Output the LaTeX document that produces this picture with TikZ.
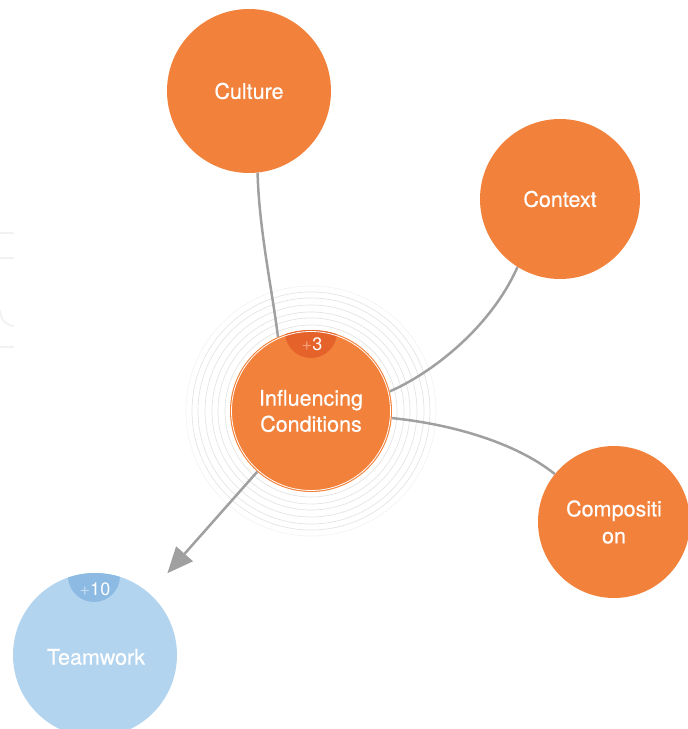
\documentclass[tikz,border=0pt]{standalone}
\usepackage{fontspec}
\setmainfont{TeX Gyre Heros}
\newfontfamily\medfont[FakeBold=0.5]{TeX Gyre Heros}
\usetikzlibrary{arrows.meta}
\definecolor{org}{HTML}{F2813B}
\definecolor{orgdark}{HTML}{E5622A}
\definecolor{orgplus}{HTML}{F5A27C}
\definecolor{blu}{HTML}{B3D4EF}
\definecolor{bludark}{HTML}{8DBAE3}
\definecolor{bluplus}{HTML}{C2DBF1}
\definecolor{edgegray}{HTML}{A0A0A0}
\definecolor{ringgray}{HTML}{E4E4E4}
\definecolor{ghost}{HTML}{F2F2F2}
\tikzset{
  bub/.style={circle, fill=org, text=white, inner sep=0pt, align=center,
    font=\medfont\fontsize{21.5}{27}\selectfont},
  edge/.style={draw=edgegray, line width=2.5pt},
  ring/.style={draw=ringgray, line width=0.7pt},
  badgetext/.style={text=white, inner sep=0pt, font=\fontsize{18}{20}\selectfont}
}
\begin{document}
\begin{tikzpicture}[x=1pt,y=1pt]
\useasboundingbox (0,0) rectangle (688,729);
% faint ghost marks at the left edge
\draw[ghost, line width=2pt] (0,496) -- (14,496);
\draw[ghost, line width=2pt] (0,471) -- (14,471);
\draw[ghost, line width=2pt] (0,419) .. controls (1,408) and (6,404) .. (14,403);
\draw[ghost, line width=2pt] (0,382) -- (14,382);
% concentric rings
\foreach \r in {86,93,99,106,113,119} \draw[ring] (311,318) circle (\r pt);
\draw[draw=ringgray!50, line width=0.6pt] (311,318) circle (125pt);
% nodes
\node[bub, minimum size=164pt] (c1) at (249,638) {Culture};
\node[bub, minimum size=160pt] (c2) at (560,530) {Context};
\node[bub, minimum size=152pt] (c3) at (614,207) {Compositi\\on};
\node[bub, minimum size=162pt] (ic) at (311,318) {};
\node[bub, fill=blu, minimum size=164pt] (tw) at (95,74) {};
% badges
\begin{scope}
  \clip (311,318) circle (81pt);
  \fill[orgdark] (311,397) circle (26pt);
\end{scope}
\draw[white, line width=0.8pt] (311,318) circle (79.5pt);
\begin{scope}
  \clip (95,74) circle (82pt);
  \fill[bludark] (94,153) circle (26pt);
\end{scope}
% labels of main nodes
\node[text=white, align=center, font=\medfont\fontsize{21.5}{26}\selectfont] (ict) at (311,318) {Influencing\\Conditions};
\node[text=white, font=\medfont\fontsize{21.5}{26}\selectfont] (twt) at (96,72) {Teamwork};
\node[badgetext] (b1) at (312,385) {\textcolor{orgplus}{+}3};
\node[badgetext] (b2) at (95,140) {\textcolor{bluplus}{+}10};
% connectors
\draw[edge] (c1.-84) .. controls (259,500) and (272,440) .. (ic.114);
\draw[edge] (c2.238) .. controls (490,400) and (430,355) .. (ic.14);
\draw[edge] (c3.141) .. controls (515,287) and (450,305) .. (ic.-5);
\draw[edge, -{Triangle[length=26pt,width=22pt]}, shorten >=27pt] (ic) -- (tw);
\end{tikzpicture}
\end{document}
